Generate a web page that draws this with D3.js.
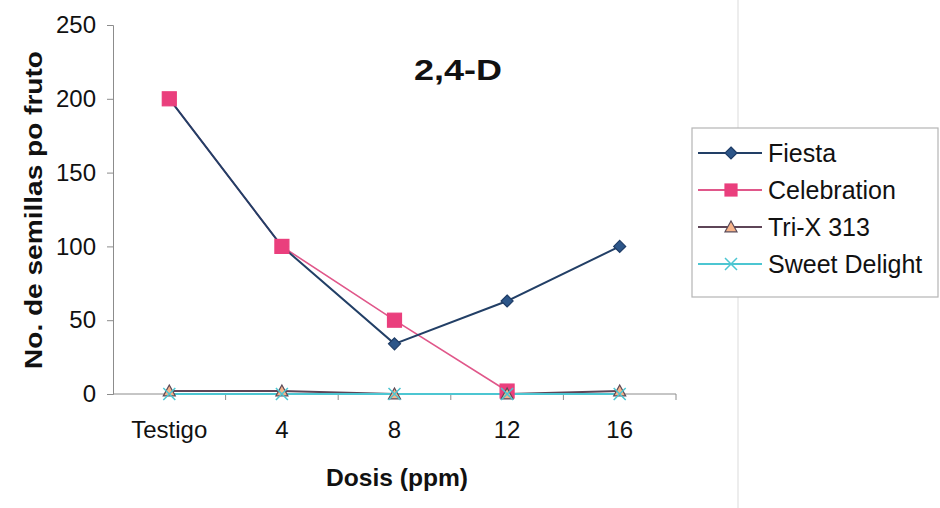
<!DOCTYPE html>
<html lang="es">
<head>
<meta charset="UTF-8">
<title>2,4-D</title>
<script src="https://d3js.org/d3.v7.min.js"></script>
<style>
    body { margin: 0; background: #fff; }
    svg { font-family: "Liberation Sans", Arial, sans-serif; display: block; }
    .axis path, .axis line { stroke: #8c8c8c; }
    .axis text { font-size: 24px; fill: #111; }
</style>
</head>
<body>
<svg id="chart" width="940" height="508"></svg>
<script>
// data (null = no point shown)
const categories = ["Testigo", "4", "8", "12", "16"];
const fiesta = [200, 100, 34, 63, 100];
const celebration = [200, 100, 50, 2, null];
const triX = [2, 2, 0, 0, 2];
const sweetDelight = [0, 0, 0, 0, 0];
const yTicks = [0, 50, 100, 150, 200, 250];

const series = [
    {name: "Fiesta", values: fiesta, line: "#223f66", fill: "#2d5689", stroke: "#1f3c66", shape: "diamond", w: 2},
    {name: "Celebration", values: celebration, line: "#e0578a", fill: "#ea3f7d", stroke: "#ea3f7d", shape: "square", w: 1.6},
    {name: "Tri-X 313", values: triX, line: "#5e4557", fill: "#f7b48a", stroke: "#5a4a58", shape: "triangle", w: 2},
    {name: "Sweet Delight", values: sweetDelight, line: "#4cc6d2", fill: "none", stroke: "#4cc6d2", shape: "x", w: 2}
];

const svg = d3.select("#chart");
const m = {left: 113, right: 676, top: 25, bottom: 394};

// faint page crease of the scan
svg.append("line").attr("x1", 738).attr("x2", 738).attr("y1", 0).attr("y2", 508)
    .attr("stroke", "#ededed").attr("stroke-width", 2);

const x = d3.scaleBand().domain(categories).range([m.left, m.right]);
const y = d3.scaleLinear().domain([0, 250]).range([m.bottom, m.top]);

svg.append("g").attr("class", "axis")
    .attr("transform", `translate(${m.left},0)`)
    .call(d3.axisLeft(y).tickValues(yTicks).tickSize(6).tickPadding(11));

// category axis: ticks at band edges, labels at centres
const xAxis = svg.append("g").attr("class", "axis")
    .attr("transform", `translate(0,${m.bottom})`);
xAxis.append("line").attr("x1", m.left).attr("x2", m.right);
const edges = categories.map(c => x(c) + x.bandwidth());
xAxis.selectAll(".edge").data(edges).join("line")
    .attr("x1", d => d).attr("x2", d => d).attr("y1", 0).attr("y2", 6);
xAxis.selectAll(".lbl").data(categories).join("text")
    .attr("x", d => x(d) + x.bandwidth() / 2)
    .attr("y", 44).attr("text-anchor", "middle").text(d => d);

const cx = c => x(c) + x.bandwidth() / 2;

function marker(g, shape, s) {
    if (shape === "diamond") g.append("path").attr("d", `M0,${-s}L${s},0L0,${s}L${-s},0Z`);
    else if (shape === "square") g.append("rect").attr("x", -s).attr("y", -s).attr("width", 2 * s).attr("height", 2 * s);
    else if (shape === "triangle") g.append("path").attr("d", `M0,${-s}L${s},${s * 0.8}L${-s},${s * 0.8}Z`);
    else g.append("path").attr("d", `M${-s},${-s}L${s},${s}M${-s},${s}L${s},${-s}`);
}
const size = {diamond: 6, square: 7, triangle: 6, x: 6};

const line = d3.line().defined(d => d != null)
    .x((d, i) => cx(categories[i])).y(d => y(d));

// lines first (Fiesta over Celebration), then markers in series order
[series[1], series[0], series[2], series[3]].forEach(s => {
    svg.append("path").datum(s.values).attr("d", line)
        .attr("fill", "none").attr("stroke", s.line).attr("stroke-width", s.w);
});
series.forEach(s => {
    s.values.forEach((v, i) => {
        if (v == null) return;
        const g = svg.append("g").attr("transform", `translate(${cx(categories[i])},${y(v)})`)
            .attr("fill", s.fill).attr("stroke", s.stroke).attr("stroke-width", s.shape === "x" ? 1.5 : 1.2);
        marker(g, s.shape, size[s.shape]);
    });
});

// title and axis titles
svg.append("text").attr("x", 458).attr("y", 80).attr("text-anchor", "middle")
    .attr("font-size", 30).attr("font-weight", "bold").attr("fill", "#111")
    .attr("textLength", 88).attr("lengthAdjust", "spacingAndGlyphs").text("2,4-D");
svg.append("text").attr("x", 397).attr("y", 486).attr("text-anchor", "middle")
    .attr("font-size", 24).attr("font-weight", "bold").attr("fill", "#111")
    .attr("textLength", 142).attr("lengthAdjust", "spacingAndGlyphs").text("Dosis (ppm)");
svg.append("text").attr("transform", "translate(42,210) rotate(-90)").attr("text-anchor", "middle")
    .attr("font-size", 23).attr("font-weight", "bold").attr("fill", "#111")
    .attr("textLength", 318).attr("lengthAdjust", "spacingAndGlyphs").text("No. de semillas po fruto");

// legend
const lg = svg.append("g").attr("transform", "translate(692,128)");
lg.append("rect").attr("width", 246).attr("height", 169)
    .attr("fill", "#fff").attr("stroke", "#b5b5b5").attr("stroke-width", 1.2);
series.forEach((s, i) => {
    const row = lg.append("g").attr("transform", `translate(0,${25 + i * 37})`);
    row.append("line").attr("x1", 6).attr("x2", 70).attr("stroke", s.line).attr("stroke-width", 2);
    const g = row.append("g").attr("transform", "translate(39,0)")
        .attr("fill", s.fill).attr("stroke", s.stroke).attr("stroke-width", s.shape === "x" ? 1.5 : 1.2);
    marker(g, s.shape, 6);
    row.append("text").attr("x", 76).attr("y", 9).attr("font-size", 25).attr("fill", "#111").text(s.name);
});
</script>
</body>
</html>
